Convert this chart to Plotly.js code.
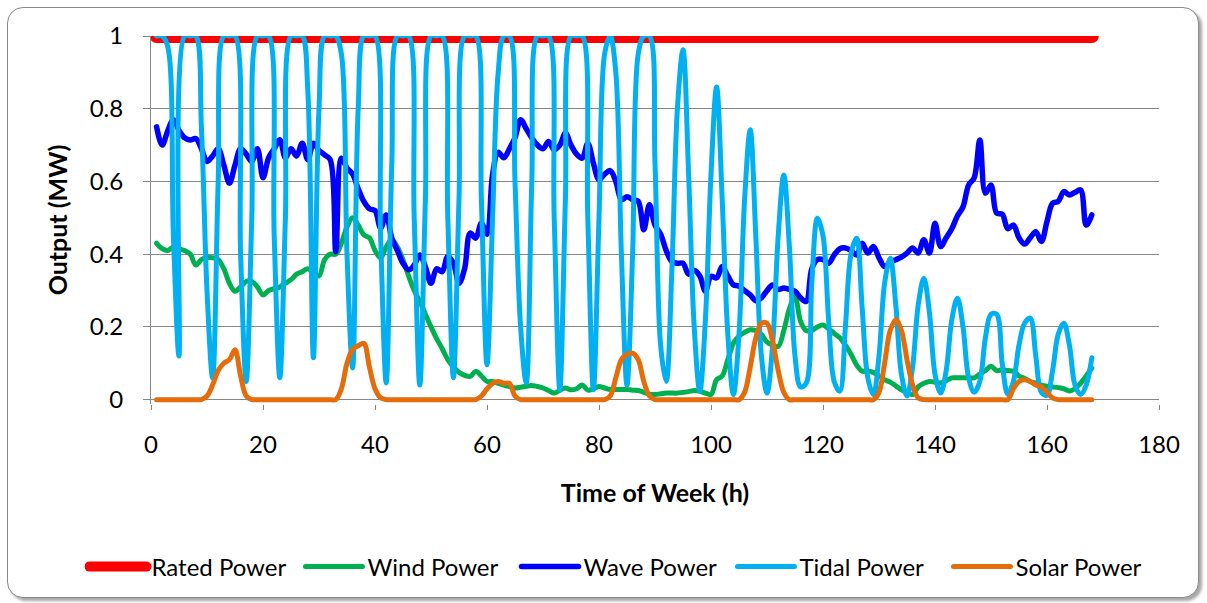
<!DOCTYPE html>
<html><head><meta charset="utf-8">
<script src="https://cdn.plot.ly/plotly-3.0.1.min.js"></script>
<style>
html,body{margin:0;padding:0;background:#fff;}
#frame{position:absolute;left:7px;top:7px;width:1190px;height:589px;border:1.5px solid #8a8a8a;border-radius:16px;box-shadow:3px 3px 3px rgba(0,0,0,0.35);background:#fff;}
#chart{position:absolute;left:0;top:0;width:1207px;height:603px;}
#chart path.js-line, #chart .legendlines path{stroke-linecap:round;stroke-linejoin:round;}
</style></head>
<body><div id="frame"></div><div id="chart"></div>
<script>
const hours = [1,2,3,4,5,6,7,8,9,10,11,12,13,14,15,16,17,18,19,20,21,22,23,24,25,26,27,28,29,30,
31,32,33,34,35,36,37,38,39,40,41,42,43,44,45,46,47,48,49,50,51,52,53,54,55,56,57,58,59,60,
61,62,63,64,65,66,67,68,69,70,71,72,73,74,75,76,77,78,79,80,81,82,83,84,85,86,87,88,89,90,
91,92,93,94,95,96,97,98,99,100,101,102,103,104,105,106,107,108,109,110,111,112,113,114,115,116,117,118,119,120,
121,122,123,124,125,126,127,128,129,130,131,132,133,134,135,136,137,138,139,140,141,142,143,144,145,146,147,148,149,150,
151,152,153,154,155,156,157,158,159,160,161,162,163,164,165,166,167,168];

const ratedPower = [1,1,1,1,1,1,1,1,1,1,1,1,1,1,1,1,1,1,1,1,1,1,1,1,1,1,1,1,1,1,
1,1,1,1,1,1,1,1,1,1,1,1,1,1,1,1,1,1,1,1,1,1,1,1,1,1,1,1,1,1,
1,1,1,1,1,1,1,1,1,1,1,1,1,1,1,1,1,1,1,1,1,1,1,1,1,1,1,1,1,1,
1,1,1,1,1,1,1,1,1,1,1,1,1,1,1,1,1,1,1,1,1,1,1,1,1,1,1,1,1,1,
1,1,1,1,1,1,1,1,1,1,1,1,1,1,1,1,1,1,1,1,1,1,1,1,1,1,1,1,1,1,
1,1,1,1,1,1,1,1,1,1,1,1,1,1,1,1,1,1];

const windPower = [0.43,0.415,0.41,0.42,0.415,0.41,0.40,0.37,0.385,0.39,
0.39,0.385,0.36,0.32,0.298,0.31,0.325,0.325,0.31,0.288,
0.30,0.305,0.31,0.32,0.33,0.345,0.352,0.36,0.35,0.34,
0.385,0.40,0.40,0.43,0.475,0.50,0.48,0.453,0.445,0.41,
0.39,0.42,0.44,0.42,0.385,0.34,0.30,0.27,0.235,0.20,
0.168,0.14,0.11,0.09,0.075,0.067,0.064,0.078,0.065,0.05,
0.05,0.045,0.04,0.036,0.032,0.034,0.037,0.039,0.036,0.032,
0.025,0.018,0.026,0.032,0.027,0.03,0.04,0.026,0.03,0.036,
0.032,0.028,0.028,0.028,0.028,0.026,0.025,0.02,0.015,0.014,
0.016,0.018,0.018,0.018,0.02,0.022,0.025,0.023,0.018,0.014,
0.055,0.065,0.11,0.155,0.175,0.185,0.192,0.19,0.179,0.158,
0.15,0.146,0.19,0.25,0.283,0.215,0.19,0.19,0.2,0.205,
0.195,0.182,0.17,0.15,0.125,0.095,0.078,0.078,0.075,0.065,
0.055,0.048,0.038,0.027,0.02,0.014,0.035,0.045,0.05,0.048,
0.046,0.052,0.06,0.06,0.06,0.06,0.06,0.07,0.08,0.092,
0.08,0.082,0.08,0.078,0.065,0.058,0.05,0.045,0.04,0.037,
0.035,0.033,0.03,0.024,0.03,0.045,0.065,0.087];

const wavePower = [0.75,0.70,0.74,0.77,0.74,0.72,0.714,0.718,0.69,0.655,
0.67,0.69,0.645,0.595,0.645,0.69,0.675,0.655,0.69,0.61,
0.665,0.69,0.715,0.665,0.69,0.67,0.705,0.66,0.705,0.685,
0.673,0.66,0.407,0.664,0.637,0.62,0.58,0.545,0.525,0.52,
0.472,0.508,0.444,0.41,0.375,0.357,0.37,0.398,0.365,0.32,
0.36,0.352,0.394,0.375,0.32,0.36,0.458,0.444,0.485,0.455,
0.62,0.68,0.665,0.69,0.72,0.77,0.745,0.72,0.70,0.69,
0.71,0.687,0.70,0.733,0.70,0.675,0.664,0.705,0.65,0.605,
0.62,0.63,0.60,0.55,0.558,0.55,0.545,0.467,0.536,0.48,
0.455,0.41,0.38,0.375,0.375,0.345,0.355,0.34,0.298,0.339,
0.335,0.366,0.34,0.316,0.312,0.30,0.288,0.272,0.28,0.30,
0.315,0.303,0.307,0.303,0.298,0.28,0.27,0.36,0.385,0.385,
0.375,0.398,0.415,0.417,0.41,0.398,0.43,0.403,0.421,0.39,
0.366,0.378,0.385,0.392,0.403,0.417,0.403,0.44,0.403,0.485,
0.421,0.445,0.47,0.505,0.53,0.59,0.61,0.714,0.568,0.59,
0.513,0.51,0.47,0.48,0.445,0.428,0.445,0.462,0.435,0.49,
0.54,0.545,0.572,0.563,0.57,0.577,0.48,0.508];

const tidalPower = [1,1,0.97,0.45,0.12,1,1,1,0.75,0.3,
0.06,0.6,1,1,1,0.4,0.05,0.5,1,1,
1,0.45,0.06,0.5,1,1,1,0.85,0.115,0.8,
1,1,1,0.95,0.4,0.087,0.8,1,1,1,
0.45,0.046,0.65,1,1,1,0.5,0.04,0.55,1,
1,1,0.5,0.06,0.55,1,1,1,0.55,0.096,
0.5,0.9,1,1,0.6,0.2,0.046,0.6,1,1,
1,0.5,0.027,0.55,1,1,1,0.5,0.027,0.5,
0.95,1,0.9,0.4,0.04,0.4,0.95,1,1,0.65,
0.15,0.05,0.35,0.8,0.962,0.62,0.2,0.023,0.22,0.62,
0.86,0.55,0.18,0.014,0.18,0.55,0.742,0.45,0.12,0.018,
0.15,0.45,0.618,0.42,0.12,0.035,0.045,0.32,0.499,0.45,
0.22,0.05,0.023,0.2,0.4,0.444,0.25,0.06,0.014,0.12,
0.32,0.389,0.26,0.07,0.01,0.09,0.26,0.334,0.24,0.07,
0.018,0.08,0.22,0.279,0.2,0.06,0.02,0.05,0.17,0.235,
0.235,0.1,0.015,0.05,0.15,0.21,0.224,0.12,0.02,0.012,
0.08,0.18,0.21,0.15,0.04,0.014,0.04,0.115];

const solarPower = [0,0,0,0,0,0,0,0,0,0.01,
0.04,0.08,0.10,0.11,0.137,0.065,0.01,0,0,0,
0,0,0,0,0,0,0,0,0,0,
0,0,0,0.03,0.10,0.138,0.148,0.155,0.09,0.03,
0.005,0,0,0,0,0,0,0,0,0,
0,0,0,0,0,0,0,0,0.01,0.03,
0.045,0.05,0.045,0.045,0.01,0,0,0,0,0,
0,0,0,0,0,0,0,0,0,0,
0,0.01,0.06,0.11,0.125,0.128,0.11,0.05,0.01,0,
0,0,0,0,0,0,0,0,0,0,
0,0,0,0,0,0.02,0.09,0.17,0.21,0.21,
0.16,0.08,0.02,0,0,0,0,0,0,0,
0,0,0,0,0,0,0,0,0,0.02,
0.10,0.19,0.22,0.19,0.11,0.04,0.005,0,0,0,
0,0,0,0,0,0,0,0,0,0,
0,0,0,0.03,0.05,0.055,0.05,0.04,0.035,0.02,
0.005,0,0,0,0,0,0,0];

const seriesNames = ['Rated Power','Wind Power','Wave Power','Tidal Power','Solar Power'];
const seriesData = [ratedPower, windPower, wavePower, tidalPower, solarPower];
const seriesColors = ['#FF0000','#00B050','#0000FF','#00B0F0','#E46C0A'];
const seriesWidths = [14,5,5.5,5,5];

const yTickVals = [0,0.2,0.4,0.6,0.8,1];
const yTickText = ['0','0.2','0.4','0.6','0.8','1'];
const xTickVals = [0,20,40,60,80,100,120,140,160,180];

const traces = seriesNames.map((n,i)=>({
  type:'scatter', mode:'lines', name:n, x:hours, y:seriesData[i],
  line:{color:seriesColors[i], width:seriesWidths[i], shape: i===0?'linear':'spline', smoothing:1},
  hoverinfo:'skip'
}));

const FONT = 'Lato, "Open Sans", sans-serif';
const layout = {
  width:1207, height:603,
  margin:{l:151, r:48, t:36, b:199, pad:0},
  paper_bgcolor:'rgba(0,0,0,0)', plot_bgcolor:'rgba(0,0,0,0)',
  font:{family:FONT, size:24, color:'#000'},
  showlegend:true,
  legend:{orientation:'h', x:-0.066, xanchor:'left', y:-0.443, yanchor:'middle',
    font:{family:FONT, size:24, color:'#000'}, entrywidth:144, entrywidthmode:'pixels',
    itemwidth:57, tracegroupgap:0, bgcolor:'rgba(0,0,0,0)'},
  xaxis:{range:[0,180], tickvals:xTickVals, showgrid:false, zeroline:false, showline:false,
    ticks:'outside', ticklen:5, tickcolor:'#868686', tickwidth:1, automargin:false,
    ticklabelstandoff:14, tickfont:{family:FONT, size:24},
    title:{text:'<b>Time of Week (h)</b>', font:{family:FONT, size:25}, standoff:27}},
  yaxis:{range:[-0.012,1], tickvals:yTickVals, ticktext:yTickText, automargin:false,
    showgrid:true, gridcolor:'#868686', gridwidth:1,
    zeroline:true, zerolinecolor:'#868686', zerolinewidth:1,
    showline:true, linecolor:'#868686', linewidth:1,
    ticks:'outside', ticklen:7, tickcolor:'#868686', tickwidth:1,
    ticklabelstandoff:15, tickfont:{family:FONT, size:24},
    title:{text:'<b>Output (MW)</b>', font:{family:FONT, size:25}, standoff:14}}
};

Plotly.newPlot('chart', traces, layout, {displayModeBar:false, staticPlot:true});
</script></body></html>
